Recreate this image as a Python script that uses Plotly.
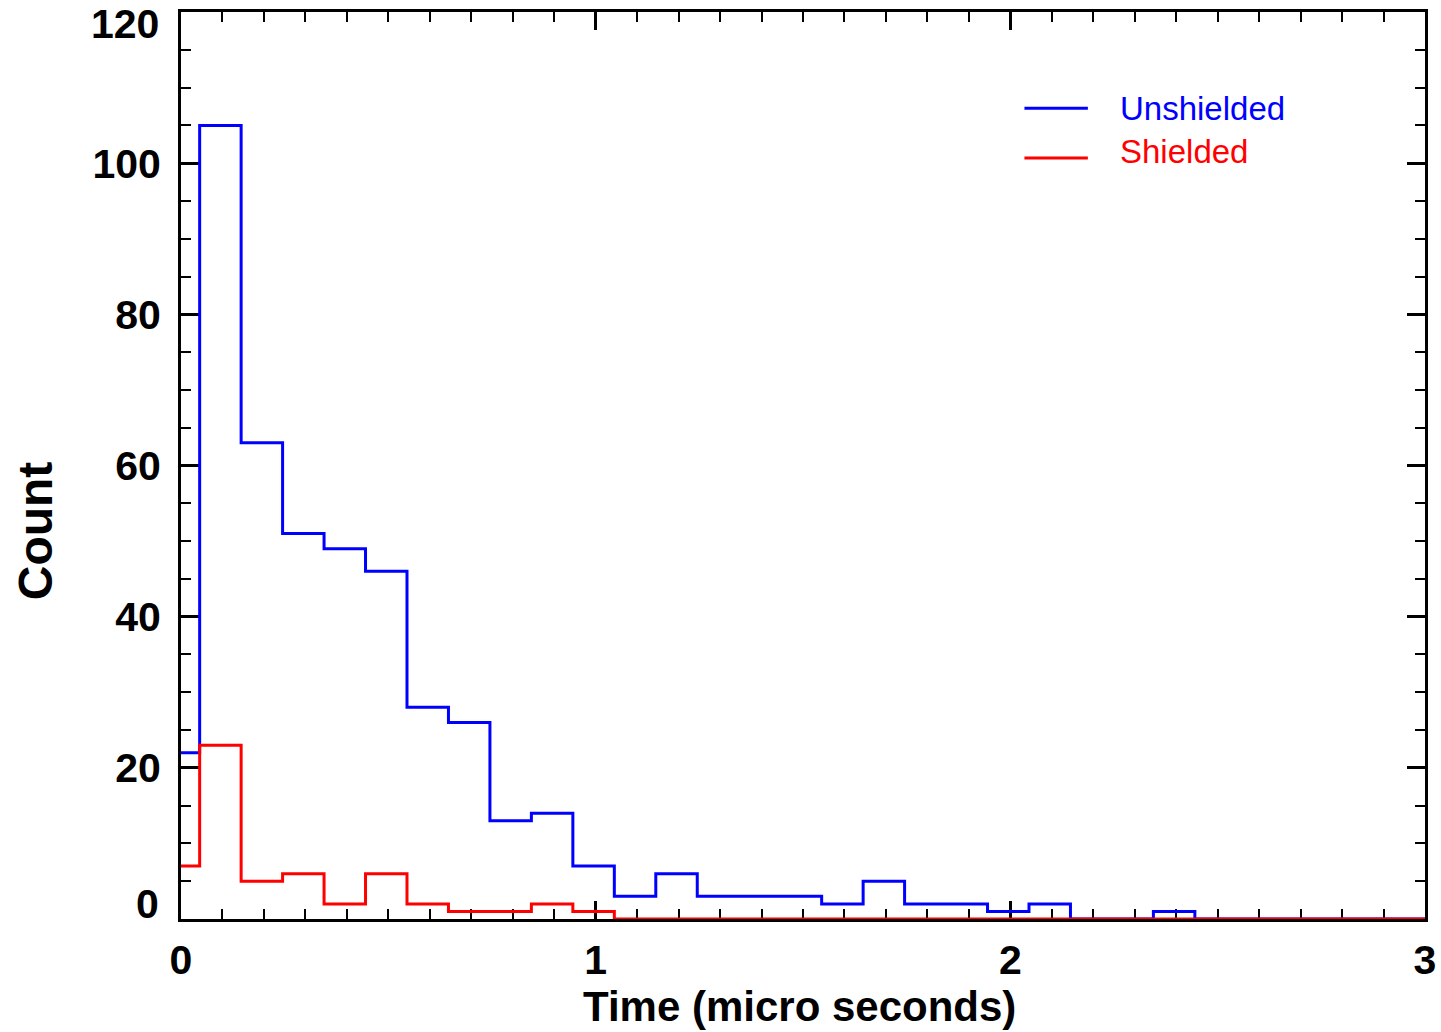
import plotly.graph_objects as go

# Bin left edges (micro seconds) and final right edge
bin_left = [0.0, 0.045, 0.145, 0.245, 0.345, 0.445, 0.545, 0.645, 0.745, 0.845,
            0.945, 1.045, 1.145, 1.245, 1.345, 1.445, 1.545, 1.645, 1.745, 1.845,
            1.945, 2.045, 2.145, 2.245, 2.345, 2.445, 2.545, 2.645, 2.745, 2.845,
            2.945]
last_edge = 3.0

unshielded = [22, 105, 63, 51, 49, 46, 28, 26, 13, 14,
              7, 3, 6, 3, 3, 3, 2, 5, 2, 2,
              1, 2, 0, 0, 1, 0, 0, 0, 0, 0,
              0]
shielded = [7, 23, 5, 6, 2, 6, 2, 1, 1, 2,
            1, 0, 0, 0, 0, 0, 0, 0, 0, 0,
            0, 0, 0, 0, 0, 0, 0, 0, 0, 0,
            0]

series_names = ["Unshielded", "Shielded"]
series_colors = ["#0000ff", "#ff0000"]

x_ticks = [0, 1, 2, 3]
y_ticks = [0, 20, 40, 60, 80, 100, 120]

fig = go.Figure()
for name, vals, col in zip(series_names, [unshielded, shielded], series_colors):
    fig.add_trace(go.Scatter(
        x=bin_left + [last_edge], y=vals + [vals[-1]],
        mode="lines", line=dict(color=col, width=3, shape="hv"),
        name=name, showlegend=False, cliponaxis=False))

tickfont = dict(family="Liberation Sans, Arial, sans-serif", size=41, color="black", weight="bold")
axis_common = dict(
    showline=True, linecolor="black", linewidth=3, mirror="allticks",
    ticks="inside", tickcolor="black", tickwidth=3, ticklen=18,
    showgrid=False, zeroline=False, tickfont=tickfont, layer="below traces",
    ticklabeloverflow="allow", automargin=False,
)

# End labels of the y axis sit inside the frame (drawn as annotations below)
y_edge_ticks = [y_ticks[0], y_ticks[-1]]
y_ticktext = ["" if v in y_edge_ticks else str(v) for v in y_ticks]

fig.update_xaxes(range=[0, 3], tickvals=x_ticks, ticktext=[str(v) for v in x_ticks],
                 ticklabelstandoff=3,
                 minor=dict(dtick=0.1, ticks="inside", ticklen=10, tickwidth=2, tickcolor="black", showgrid=False),
                 **axis_common)
fig.update_yaxes(range=[0, 120], tickvals=y_ticks, ticktext=y_ticktext,
                 ticklabelstandoff=9,
                 minor=dict(dtick=5, ticks="inside", ticklen=10, tickwidth=2, tickcolor="black", showgrid=False),
                 **axis_common)

annotations = [
    dict(text="Time (micro seconds)", xref="paper", yref="paper", x=0.497, y=-0.097,
         xanchor="center", yanchor="middle", showarrow=False,
         font=dict(family="Liberation Sans, Arial, sans-serif", size=42, color="black", weight="bold")),
    dict(text="Count", xref="paper", yref="paper", x=-0.117, y=0.428, textangle=-90,
         xanchor="center", yanchor="middle", showarrow=False,
         font=dict(family="Liberation Sans, Arial, sans-serif", size=48, color="black", weight="bold")),
]
for v, shift in zip(y_edge_ticks, [15, -12]):
    annotations.append(dict(text=str(v), xref="paper", yref="y", x=0, y=v, xshift=-20, yshift=shift,
                            xanchor="right", yanchor="middle", showarrow=False, font=tickfont))

shapes = []
legend_y = [0.894, 0.839]
legend_text_y = [0.894, 0.846]
for name, col, ly, ty in zip(series_names, series_colors, legend_y, legend_text_y):
    shapes.append(dict(type="line", xref="paper", yref="paper", x0=0.678, x1=0.729, y0=ly, y1=ly,
                       line=dict(color=col, width=3)))
    annotations.append(dict(text=name, xref="paper", yref="paper", x=0.753, y=ty,
                            xanchor="left", yanchor="middle", showarrow=False,
                            font=dict(family="Liberation Sans, Arial, sans-serif", size=33, color=col)))

fig.update_layout(
    width=1441, height=1032,
    margin=dict(l=181, r=16, t=12, b=113, autoexpand=False),
    paper_bgcolor="white", plot_bgcolor="white",
    annotations=annotations, shapes=shapes, showlegend=False,
)

fig.write_html("out.html", config={"displayModeBar": False},
               post_script="document.body.style.margin='0px';document.body.style.overflow='hidden';")
